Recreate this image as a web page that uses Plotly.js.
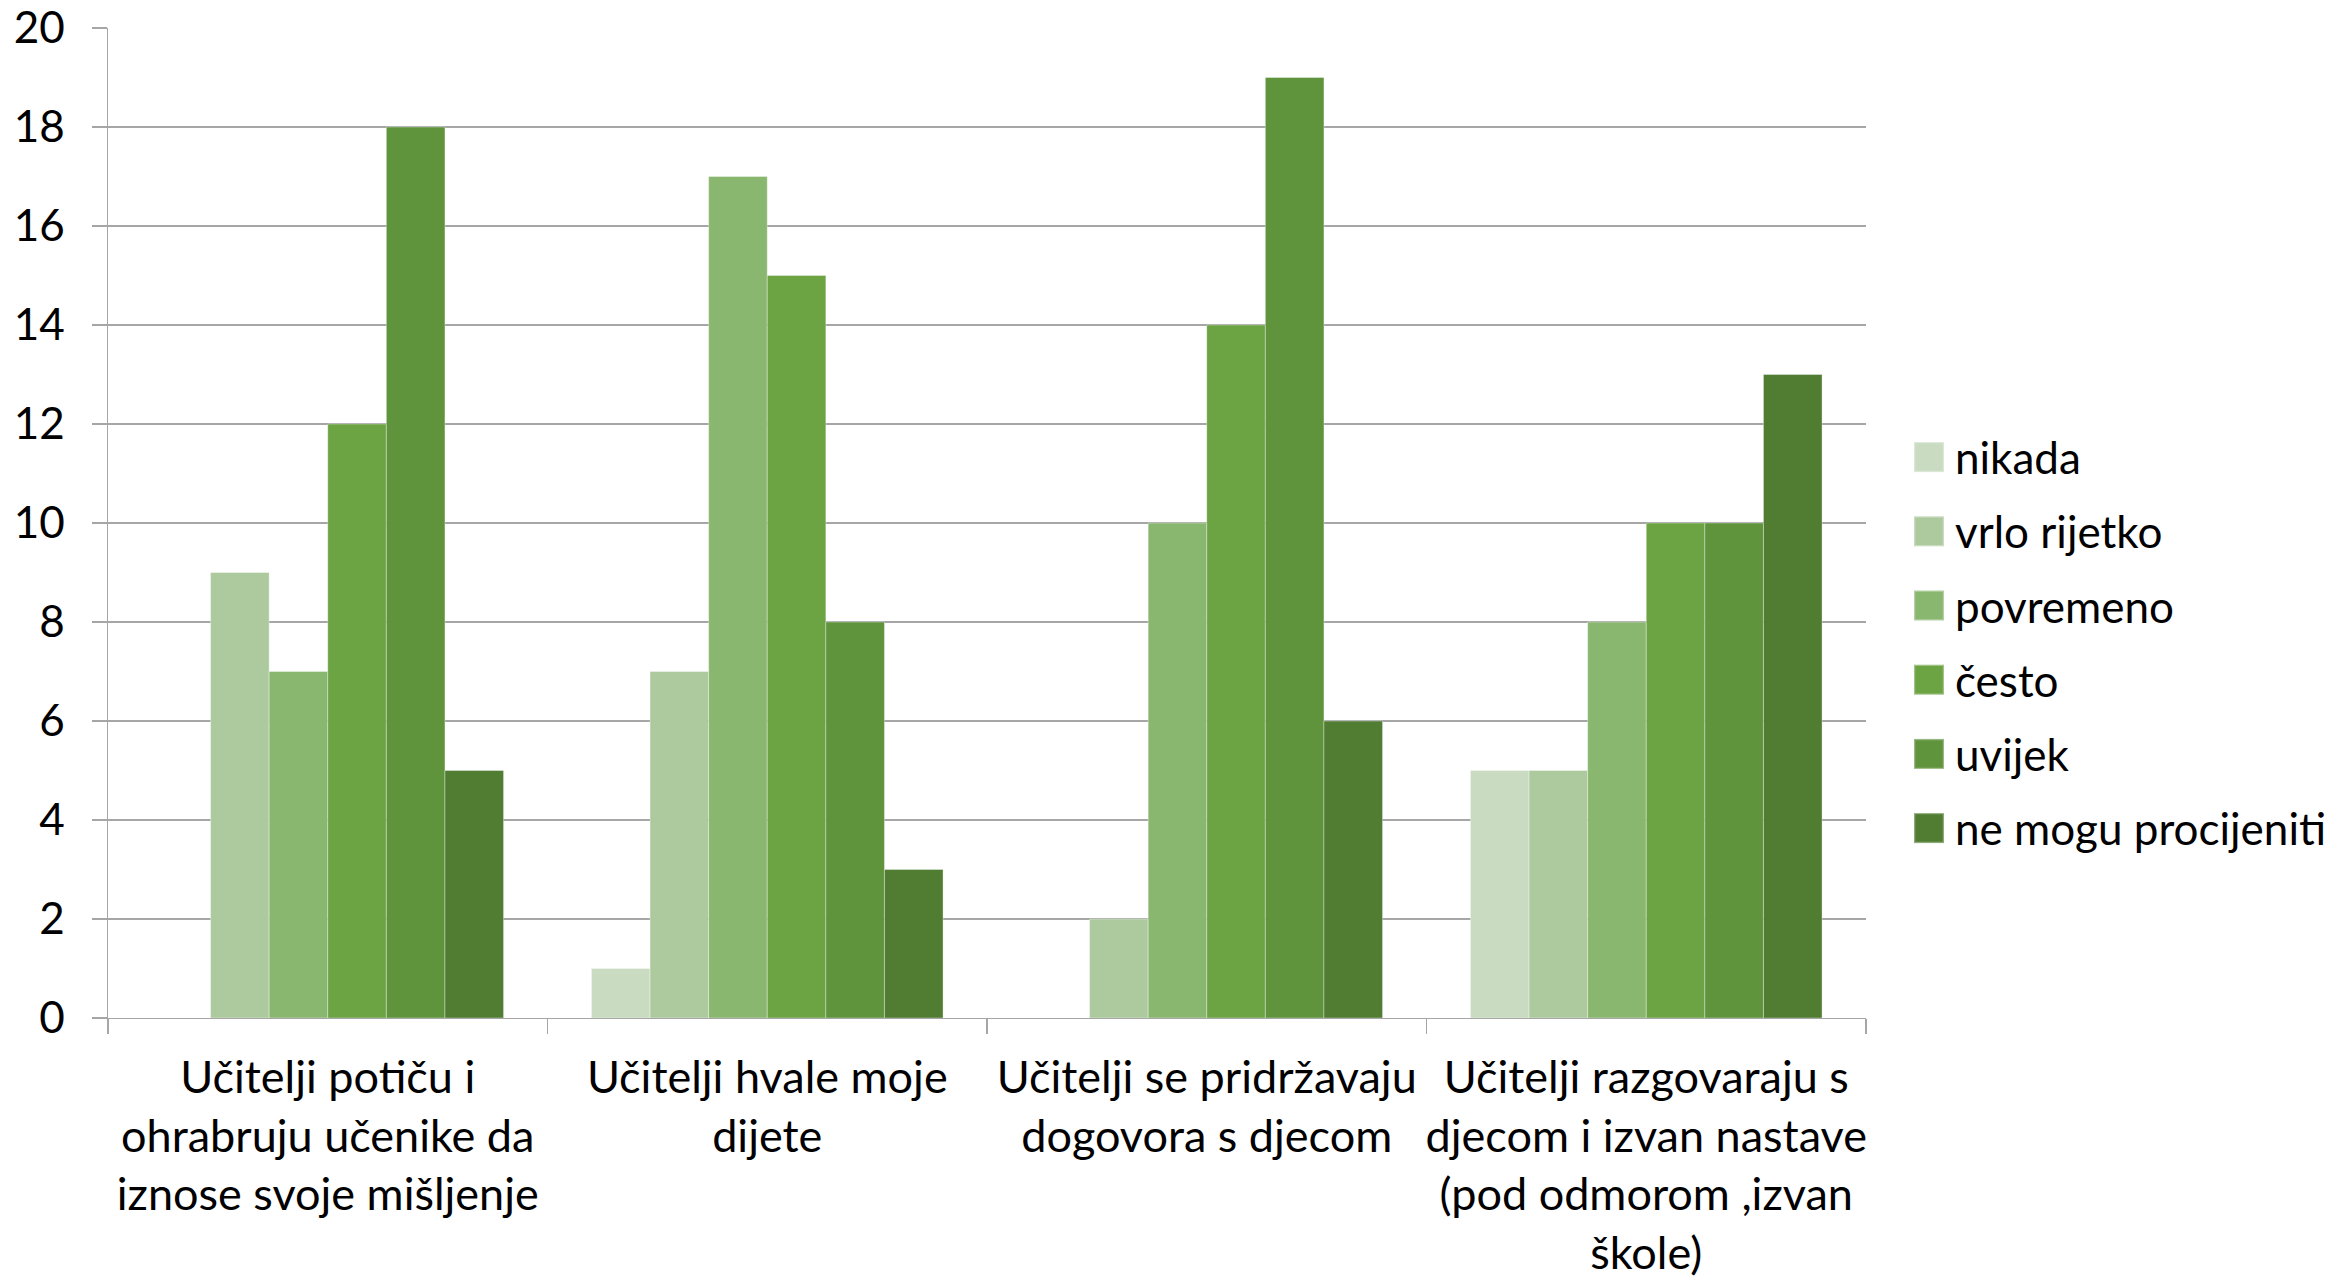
<!DOCTYPE html>
<html>
<head>
<meta charset="utf-8">
<script src="https://cdn.plot.ly/plotly-3.0.1.min.js"></script>
<style>html,body{margin:0;padding:0;background:#fff;}#chart{width:2339px;height:1278px;}</style>
</head>
<body>
<div id="chart"></div>
<script>
const categories = [
  "Učitelji potiču i<br>ohrabruju učenike da<br>iznose svoje mišljenje",
  "Učitelji hvale moje<br>dijete",
  "Učitelji se pridržavaju<br>dogovora s djecom",
  "Učitelji razgovaraju s<br>djecom i izvan nastave<br>(pod odmorom ,izvan<br>škole)"
];
const seriesNames = ["nikada", "vrlo rijetko", "povremeno", "često", "uvijek", "ne mogu procijeniti"];
const nikada = [0, 1, 0, 5];
const vrloRijetko = [9, 7, 2, 5];
const povremeno = [7, 17, 10, 8];
const cesto = [12, 15, 14, 10];
const uvijek = [18, 8, 19, 10];
const neMogu = [5, 3, 6, 13];
const seriesValues = [nikada, vrloRijetko, povremeno, cesto, uvijek, neMogu];
const colors = ["#C9DBC1", "#ADCA9F", "#8AB770", "#6CA343", "#5F933C", "#507D32"];
const yTicks = [0, 2, 4, 6, 8, 10, 12, 14, 16, 18, 20];

const FONT = "Lato, 'Open Sans', sans-serif";
const W = 2339, H = 1278;
const mL = 108, mR = 473, mT = 28, mB = 260;
const pw = W - mL - mR, ph = H - mT - mB;

const traces = seriesNames.map((n, i) => ({
  type: "bar",
  name: n,
  x: categories,
  y: seriesValues[i],
  marker: {color: colors[i], line: {color: "rgba(255,255,255,0.35)", width: 1}},
  legendgroup: "g" + i,
  hoverinfo: "name+y"
}));

const layout = {
  width: W, height: H,
  margin: {l: mL, r: mR, t: mT, b: mB, pad: 0, autoexpand: false},
  paper_bgcolor: "#fff",
  plot_bgcolor: "#fff",
  barmode: "group",
  bargap: 0.2,
  bargroupgap: 0,
  font: {family: FONT, size: 45, color: "#000"},
  showlegend: true,
  legend: {
    x: (1903 - mL) / pw,
    xanchor: "left",
    y: (H - mB - 643) / ph,
    yanchor: "middle",
    traceorder: "grouped",
    tracegroupgap: 14,
    font: {family: FONT, size: 44, color: "#000"},
    bgcolor: "rgba(0,0,0,0)",
    itemwidth: 42
  },
  xaxis: {
    type: "category",
    automargin: false,
    tickangle: 0,
    showgrid: false,
    showline: true,
    linecolor: "#A6A6A6",
    linewidth: 1.3,
    ticks: "outside",
    tickson: "boundaries",
    ticklen: 15,
    tickcolor: "#A6A6A6",
    tickwidth: 1.3,
    ticklabelstandoff: 20,
    tickfont: {family: FONT, size: 45, color: "#000"},
    zeroline: false
  },
  yaxis: {
    automargin: false,
    range: [0, 20],
    tickvals: yTicks,
    ticktext: yTicks.map(String),
    showgrid: true,
    gridcolor: "#A6A6A6",
    gridwidth: 1.3,
    showline: true,
    linecolor: "#A6A6A6",
    linewidth: 1.3,
    ticks: "outside",
    ticklen: 15,
    tickcolor: "#A6A6A6",
    tickwidth: 1.3,
    ticklabelstandoff: 18,
    tickfont: {family: FONT, size: 44, color: "#000"},
    zeroline: false
  }
};

Plotly.newPlot("chart", traces, layout, {displayModeBar: false, staticPlot: true}).then(gd => {
  gd.querySelectorAll(".legend .legendpoints path").forEach(p => {
    const t = p.getAttribute("transform") || "";
    p.setAttribute("transform", t + " scale(2.5)");
  });
});
</script>
</body>
</html>
